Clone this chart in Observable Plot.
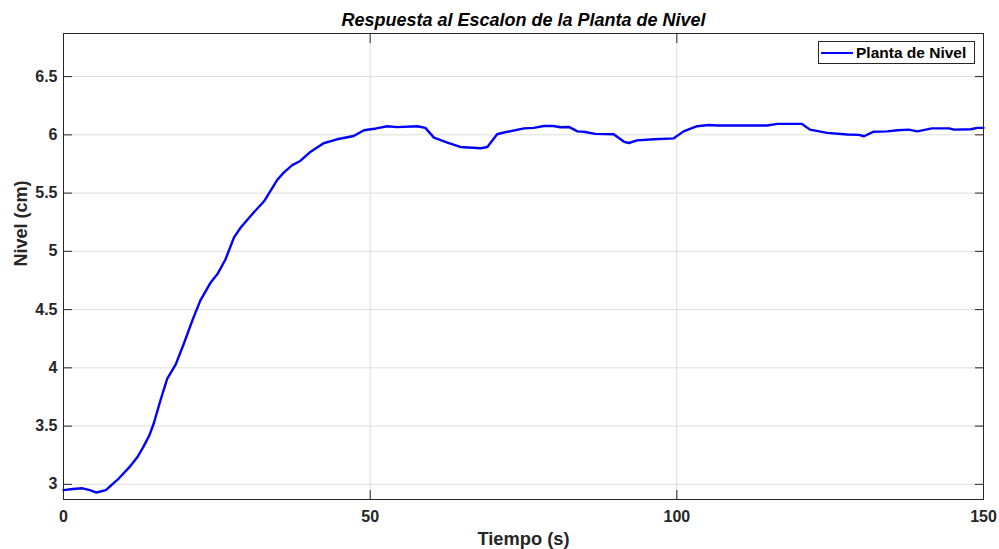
<!DOCTYPE html>
<html>
<head>
<meta charset="utf-8">
<script src="https://cdn.jsdelivr.net/npm/d3@7"></script>
<script src="https://cdn.jsdelivr.net/npm/@observablehq/plot@0.6"></script>
<style>
  html, body { margin: 0; padding: 0; background: #fff; }
  #wrap { position: relative; width: 999px; height: 549px; }
  #legend { position: absolute; left: 818px; top: 41px; width: 157px; height: 23px;
    border: 1px solid #262626; background: #fff; box-sizing: border-box;
    font: bold 15.5px "Liberation Sans", Arial, sans-serif; color: #000;
    display: flex; align-items: center; }
  #legend .sw { width: 32px; height: 2px; background: #0000ff; margin: 0 3px 0 2px; }
</style>
</head>
<body>
<div id="wrap"></div>
<script>
const tiempo = [0,1.5,3.1,4.3,5.4,6.9,9,10.9,12,13,
  14,14.7,15.8,16.9,18.3,19.6,21.0,22.3,24.0,25.1,
  26.4,27.8,28.9,31.0,32.7,34.8,35.9,37.3,38.6,40.3,
  42.4,44.6,47.3,49.0,51,52.8,54.4,57.7,59.0,60.4,
  62.6,64.7,68.0,69.1,70.7,71.8,75.1,76.7,78.3,79.9,
  81.0,82.4,83.8,84.8,86.7,89.7,91.4,92.2,93.5,96.3,
  99.5,101.1,103.3,105.2,106.6,110.4,114.7,116.4,120.4,121.7,
  124.5,127.8,129.7,130.5,132.1,134.3,136.0,137.8,139.2,141.6,
  144.4,145.2,147.9,149.0,150];
const nivel = [2.95,2.96,2.966,2.95,2.93,2.95,3.05,3.157,3.23,3.32,
  3.42,3.52,3.72,3.906,4.03,4.205,4.405,4.577,4.733,4.805,
  4.93,5.12,5.205,5.333,5.43,5.61,5.676,5.74,5.776,5.856,
  5.928,5.962,5.99,6.04,6.055,6.074,6.066,6.074,6.06,5.976,
  5.933,5.896,5.885,5.896,6.005,6.02,6.056,6.06,6.076,6.076,
  6.065,6.068,6.03,6.027,6.008,6.005,5.94,5.93,5.953,5.962,
  5.97,6.03,6.074,6.085,6.08,6.08,6.08,6.094,6.094,6.045,
  6.017,6.003,6.0,5.988,6.027,6.03,6.04,6.045,6.03,6.056,
  6.056,6.045,6.048,6.06,6.06];
const xTicks = [0, 50, 100, 150];
const yTicks = [3, 3.5, 4, 4.5, 5, 5.5, 6, 6.5];
const yTickLabels = ["3", "3.5", "4", "4.5", "5", "5.5", "6", "6.5"];
const titulo = "Respuesta al Escalon de la Planta de Nivel";
const xLabel = "Tiempo (s)";
const yLabel = "Nivel (cm)";
const serie = "Planta de Nivel";

const data = tiempo.map((t, i) => ({t, y: nivel[i]}));
const font = "'Liberation Sans', Arial, sans-serif";
const ink = "#262626";

const chart = Plot.plot({
  width: 999, height: 549,
  marginLeft: 63, marginRight: 16, marginTop: 33, marginBottom: 50,
  style: {fontFamily: font, background: "#fff", overflow: "visible"},
  x: {domain: [0, 150]},
  y: {domain: [2.87, 6.87]},
  marks: [
    Plot.gridX(xTicks.slice(1, -1), {stroke: "#dedede", strokeOpacity: 1}),
    Plot.gridY(yTicks, {stroke: "#dedede", strokeOpacity: 1}),
    Plot.line(data, {x: "t", y: "y", stroke: "#0000ff", strokeWidth: 2.4, curve: "linear",
      strokeLinejoin: "round"}),
    Plot.frame({stroke: ink, strokeWidth: 1}),
    Plot.axisY(yTicks, {anchor: "left", tickSize: -9, tickPadding: 15, stroke: ink,
      fill: ink, fontSize: 16, fontWeight: "bold", label: null,
      tickFormat: d => yTickLabels[yTicks.indexOf(d)]}),
    Plot.axisY(yTicks, {anchor: "right", tickSize: -9, text: null, stroke: ink, label: null}),
    Plot.axisX(xTicks, {anchor: "bottom", tickSize: -9, tickPadding: 20, stroke: ink, fill: ink,
      fontSize: 16, fontWeight: "bold", label: null, tickFormat: d => String(d)}),
    Plot.axisX(xTicks, {anchor: "top", tickSize: -9, text: null, stroke: ink, label: null}),
    Plot.text([titulo], {frameAnchor: "top", lineAnchor: "middle", dy: -13, text: d => d,
      fontSize: 18, fontWeight: "bold", fontStyle: "italic", fill: "#000"}),
    Plot.text([xLabel], {frameAnchor: "bottom", lineAnchor: "middle", dy: 40, text: d => d,
      fontSize: 18.3, fontWeight: "bold", fill: ink}),
    Plot.text([yLabel], {frameAnchor: "left", lineAnchor: "middle", dx: -42, rotate: -90,
      text: d => d, fontSize: 18, fontWeight: "bold", fill: ink})
  ]
});
const wrap = document.getElementById("wrap");
wrap.appendChild(chart);
const lg = document.createElement("div");
lg.id = "legend";
lg.innerHTML = '<span class="sw"></span><span></span>';
lg.lastChild.textContent = serie;
wrap.appendChild(lg);
</script>
</body>
</html>
